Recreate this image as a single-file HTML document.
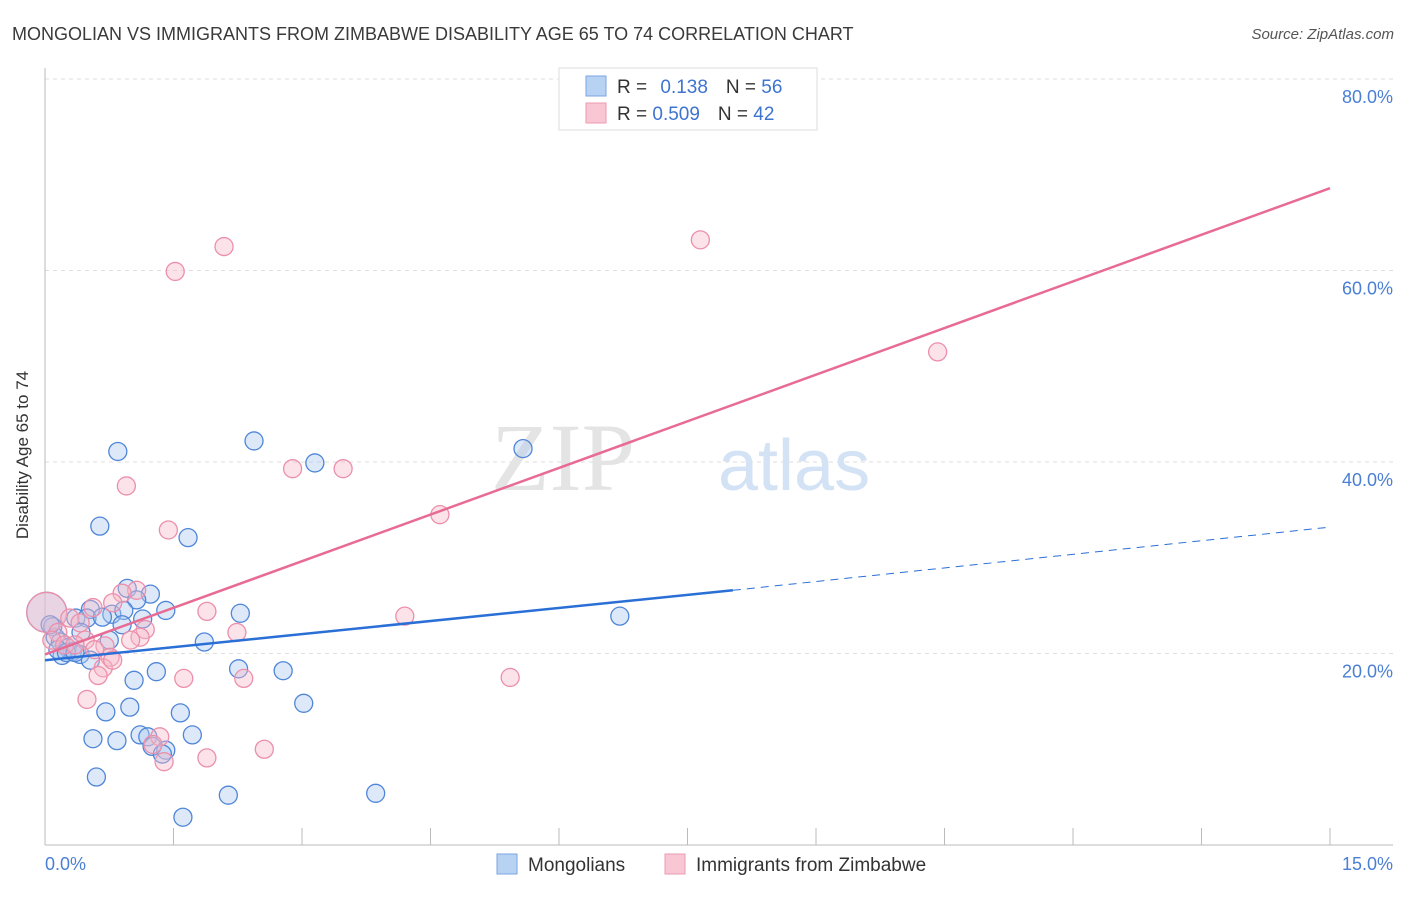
<!DOCTYPE html>
<html><head><meta charset="utf-8"><style>
body{margin:0;background:#fff;font-family:"Liberation Sans",sans-serif}
</style></head><body>
<svg width="1406" height="892" xmlns="http://www.w3.org/2000/svg">
<text x="12" y="40" font-size="18" fill="#3a3a3a">MONGOLIAN VS IMMIGRANTS FROM ZIMBABWE DISABILITY AGE 65 TO 74 CORRELATION CHART</text>
<text x="1394" y="39" font-size="15" fill="#555" font-style="italic" text-anchor="end">Source: ZipAtlas.com</text>
<g id="grid"></g>
<text x="635" y="490" font-size="96" font-family="Liberation Serif,serif" fill="#e4e4e4" text-anchor="end">ZIP</text>
<text x="718" y="490" font-size="72" fill="#d3e2f4">atlas</text>
<g id="axes"></g>
<g id="pts"></g>
<g id="lines"></g>
<text x="28" y="455" font-size="17" fill="#333" text-anchor="middle" transform="rotate(-90 28 455)">Disability Age 65 to 74</text>
<text x="45" y="870" font-size="18" fill="#4a7fd4">0.0%</text>
<text x="1393" y="870" font-size="18" fill="#4a7fd4" text-anchor="end">15.0%</text>
<g>
<rect x="559" y="68" width="258" height="62" fill="#fff" stroke="#ddd"/>
<rect x="586" y="76" width="20" height="20" fill="#b8d2f4" stroke="#7aa6e0"/>
<rect x="586" y="103" width="20" height="20" fill="#f9c6d4" stroke="#ec9ab2"/>
<text x="617" y="93" font-size="19" fill="#333">R = <tspan fill="#3d74d0" dx="8">0.138</tspan><tspan dx="18" fill="#333">N = </tspan><tspan fill="#3d74d0">56</tspan></text>
<text x="617" y="120" font-size="19" fill="#333">R = <tspan fill="#3d74d0">0.509</tspan><tspan dx="18" fill="#333">N = </tspan><tspan fill="#3d74d0">42</tspan></text>
</g>
<g>
<rect x="497" y="854" width="20" height="20" fill="#b8d2f4" stroke="#7aa6e0"/>
<text x="528" y="871" font-size="19" fill="#333">Mongolians</text>
<rect x="665" y="854" width="20" height="20" fill="#f9c6d4" stroke="#ec9ab2"/>
<text x="696" y="871" font-size="19" fill="#333">Immigrants from Zimbabwe</text>
</g>
</svg>
<script>
const yTicks=[20,40,60,80];
const yTickLabels=["20.0%","40.0%","60.0%","80.0%"];
const xTicks=[0,1.5,3,4.5,6,7.5,9,10.5,12,13.5,15];
const blueX=[0.02,0.85,2.44,3.15,5.58,0.64,1.67,0.96,1.23,1.07,1.41,0.53,0.78,0.92,0.36,0.49,0.67,1.14,0.90,0.42,0.75,0.09,0.12,0.18,0.26,0.32,0.20,0.41,1.86,2.28,6.71,1.30,1.04,2.26,2.78,0.71,0.99,1.58,3.02,0.56,0.84,1.11,1.20,1.25,1.41,1.37,1.72,0.60,2.14,3.86,1.61,0.06,0.15,0.25,0.53,0.35];
const blueY=[24.3,41.1,42.2,39.9,41.4,33.3,32.1,26.8,26.2,25.6,24.5,24.6,24.1,24.5,23.7,23.7,23.8,23.6,23.0,22.2,21.4,22.8,21.7,21.2,20.6,20.2,19.8,19.9,21.2,24.2,23.9,18.1,17.2,18.4,18.2,13.9,14.4,13.8,14.8,11.1,10.9,11.5,11.3,10.3,9.9,9.5,11.5,7.1,5.2,5.4,2.9,23.0,20.4,20.1,19.3,20.1];
const pinkX=[0.02,2.09,1.52,7.65,10.42,2.89,3.48,0.95,4.61,1.44,4.20,5.43,1.07,0.90,0.79,1.17,1.11,1.00,1.89,2.24,0.56,0.29,0.41,0.15,0.47,0.70,0.76,0.68,0.62,1.62,2.32,0.49,1.34,1.26,1.39,1.89,2.56,0.08,0.23,0.35,0.58,0.79];
const pinkY=[24.3,62.5,59.9,63.2,51.5,39.3,39.3,37.5,34.5,32.9,23.9,17.5,26.6,26.3,25.3,22.5,21.7,21.4,24.4,22.2,24.8,23.7,23.2,22.2,21.4,20.8,19.6,18.5,17.7,17.4,17.4,15.2,11.3,10.5,8.7,9.1,10.0,21.4,20.9,20.9,20.4,19.3];
const blueLine=[19.3,26.6,33.2];
const blueSolidEnd=8.03;
const pinkLine=[19.9,68.6];
const NS="http://www.w3.org/2000/svg";
const X=v=>45+v*(1285/15), Y=v=>845-v*(766/80);
function mk(t,a,p){const e=document.createElementNS(NS,t);for(const k in a)e.setAttribute(k,a[k]);p.appendChild(e);return e;}
const grid=document.getElementById('grid'),axes=document.getElementById('axes'),pts=document.getElementById('pts'),lines=document.getElementById('lines');
yTicks.forEach((t,i)=>{
 const l=mk('line',{x1:45,x2:1393,y1:Y(t),y2:Y(t),stroke:'#ddd','stroke-dasharray':'4,4'},grid);
 
 
 const tx=mk('text',{x:1393,y:Y(t)+24,'font-size':18,fill:'#4a7fd4','text-anchor':'end'},grid);
 tx.textContent=yTickLabels[i];
 
 
});
let a=mk('line',{x1:45,x2:45,y1:68,y2:845,stroke:'#bbb'},axes);


a=mk('line',{x1:45,x2:1393,y1:845,y2:845,stroke:'#bbb'},axes);


xTicks.forEach(t=>{
 const l=mk('line',{x1:X(t),x2:X(t),y1:828,y2:845,stroke:'#bbb'},axes);
 
 
});
function dots(xs,ys,fill,stroke,name,bigOp){
 xs.forEach((x,i)=>{
  const c=mk('circle',{cx:X(x),cy:Y(ys[i]),r:i===0?20:9,fill:fill,'fill-opacity':i===0?bigOp:0.4,stroke:stroke,'stroke-width':1.3},pts);
  
  
 });
}
dots(blueX,blueY,'#a9c8f0','#4f86d8','mongolian-point',0.35);
dots(pinkX,pinkY,'#f5b8c8','#ec8fab','zimbabwe-point',0.45);
let l=mk('line',{x1:X(0),y1:Y(pinkLine[0]),x2:X(15),y2:Y(pinkLine[1]),stroke:'#e86b94','stroke-width':2.5},lines);


l=mk('line',{x1:X(0),y1:Y(blueLine[0]),x2:X(blueSolidEnd),y2:Y(blueLine[1]),stroke:'#2a6fd6','stroke-width':2.5},lines);


l=mk('line',{x1:X(blueSolidEnd),y1:Y(blueLine[1]),x2:X(15),y2:Y(blueLine[2]),stroke:'#2a6fd6','stroke-width':1,'stroke-dasharray':'8,6'},lines);


</script>
</body></html>
